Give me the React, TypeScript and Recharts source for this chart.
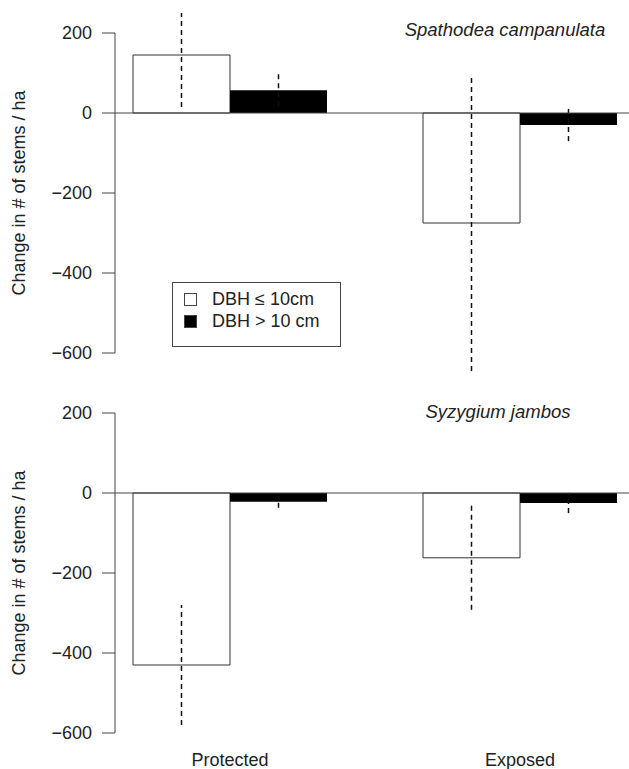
import {
  BarChart,
  Bar,
  XAxis,
  YAxis,
  ErrorBar,
  ReferenceLine,
  Legend,
} from "recharts";

const CATEGORIES = ["Protected", "Exposed"];
const Y_TICKS = [200, 0, -200, -400, -600];
const SERIES_NAMES = ["DBH \u2264 10cm", "DBH > 10 cm"];

// Spathodea campanulata
const SPATHODEA_SMALL = [145, -275];
const SPATHODEA_SMALL_ERR = [130, 370];
const SPATHODEA_LARGE = [57, -30];
const SPATHODEA_LARGE_ERR = [40, 40];

// Syzygium jambos
const SYZYGIUM_SMALL = [-430, -162];
const SYZYGIUM_SMALL_ERR = [150, 130];
const SYZYGIUM_LARGE = [-22, -25];
const SYZYGIUM_LARGE_ERR = [15, 25];

const Y_MIN = -650;
const Y_MAX = 250;
const PLOT_H = 360;
const FONT = "'Liberation Sans', Arial, Helvetica, sans-serif";
const AXIS = "#444";
const TEXT = "#222";

const fmt = (v: number) => (v < 0 ? "\u2212" + Math.abs(v) : String(v));

function YTick(props: any) {
  const { x, y, payload } = props;
  const step = ((Y_TICKS[0] - Y_TICKS[1]) * PLOT_H) / (Y_MAX - Y_MIN);
  const last = payload.value <= Math.min(...Y_TICKS);
  return (
    <g>
      <line x1={x - 13} x2={x} y1={y} y2={y} stroke={AXIS} />
      {!last && <line x1={x} x2={x} y1={y} y2={y + step} stroke={AXIS} />}
      <text
        x={x - 23}
        y={y}
        dy="0.35em"
        textAnchor="end"
        fontSize={18}
        fontFamily={FONT}
        fill={TEXT}
      >
        {fmt(payload.value)}
      </text>
    </g>
  );
}

function YLabel(props: any) {
  const { viewBox } = props;
  const cx = viewBox.x + 10;
  const cy = viewBox.y + viewBox.height / 2;
  return (
    <text
      x={cx}
      y={cy}
      transform={`rotate(-90, ${cx}, ${cy})`}
      textAnchor="middle"
      fontSize={18}
      fontFamily={FONT}
      fill={TEXT}
    >
      Change in # of stems / ha
    </text>
  );
}

function LegendBox(props: any) {
  const items = [...(props.payload || [])].sort(
    (a: any, b: any) => SERIES_NAMES.indexOf(a.value) - SERIES_NAMES.indexOf(b.value)
  );
  return (
    <div
      style={{
        border: `1px solid ${AXIS}`,
        width: 169,
        height: 65,
        paddingTop: 5,
        boxSizing: "border-box",
        background: "#fff",
        fontFamily: FONT,
        fontSize: 18,
        color: TEXT,
      }}
    >
      {items.map((entry: any) => (
        <div
          key={entry.value}
          style={{ display: "flex", alignItems: "center", height: 22 }}
        >
          <span
            style={{
              display: "inline-block",
              marginLeft: 11,
              width: 13,
              height: 13,
              boxSizing: "border-box",
              border: `1px solid ${AXIS}`,
              background: entry.color,
            }}
          />
          <span style={{ marginLeft: 15 }}>{entry.value}</span>
        </div>
      ))}
    </div>
  );
}

type PanelProps = {
  title: string;
  titleLeft: number;
  titleTop: number;
  small: number[];
  smallErr: number[];
  large: number[];
  largeErr: number[];
  top: number;
  height: number;
  showX: boolean;
  showLegend: boolean;
};

function Panel(p: PanelProps) {
  const data = CATEGORIES.map((name, i) => ({
    name,
    small: p.small[i],
    smallErr: p.smallErr[i],
    large: p.large[i],
    largeErr: p.largeErr[i],
  }));
  const xHeight = p.height - PLOT_H;
  return (
    <div
      style={{
        position: "absolute",
        left: 0,
        top: p.top,
        width: 629,
        height: p.height,
        overflow: "hidden",
      }}
    >
      <BarChart
        width={665}
        height={p.height}
        data={data}
        margin={{ top: 0, right: 0, bottom: p.showX ? 0 : xHeight, left: 15 }}
        barCategoryGap={48}
        barGap={0}
      >
        <XAxis
          dataKey="name"
          hide={!p.showX}
          height={p.showX ? xHeight : 0}
          padding={{ left: -30, right: 0 }}
          axisLine={false}
          tickLine={false}
          tickSize={0}
          tickMargin={0}
          tick={{ fontSize: 18, fontFamily: FONT, fill: TEXT }}
        />
        <YAxis
          width={100}
          domain={[Y_MIN, Y_MAX]}
          allowDataOverflow
          ticks={Y_TICKS}
          axisLine={false}
          tickLine={false}
          tickSize={0}
          tickMargin={0}
          tick={<YTick />}
          label={{ content: <YLabel /> }}
        />
        <Bar
          dataKey="small"
          name={SERIES_NAMES[0]}
          fill="#ffffff"
          stroke="#333"
          strokeWidth={1}
          legendType="square"
          isAnimationActive={false}
        >
          <ErrorBar
            dataKey="smallErr"
            direction="y"
            width={0}
            stroke="#111"
            strokeDasharray="5 4"
          />
        </Bar>
        <Bar
          dataKey="large"
          name={SERIES_NAMES[1]}
          fill="#000000"
          legendType="square"
          isAnimationActive={false}
        >
          <ErrorBar
            dataKey="largeErr"
            direction="y"
            width={0}
            stroke="#111"
            strokeDasharray="5 4"
          />
        </Bar>
        <ReferenceLine y={0} stroke={AXIS} />
        {p.showLegend && (
          <Legend
            layout="vertical"
            align="center"
            verticalAlign="middle"
            wrapperStyle={{ position: "absolute", left: 172, top: 269, width: 169 }}
            content={<LegendBox />}
          />
        )}
      </BarChart>
      <div
        style={{
          position: "absolute",
          left: p.titleLeft,
          top: p.titleTop,
          width: 300,
          textAlign: "center",
          lineHeight: "22px",
          fontSize: 18.5,
          fontStyle: "italic",
          fontFamily: FONT,
          color: TEXT,
        }}
      >
        {p.title}
      </div>
    </div>
  );
}

export default function App() {
  return (
    <div
      style={{
        position: "absolute",
        left: 0,
        top: 0,
        width: 629,
        height: 769,
        overflow: "hidden",
        background: "#fff",
      }}
    >
      <Panel
        title="Spathodea campanulata"
        titleLeft={355}
        titleTop={6}
        small={SPATHODEA_SMALL}
        smallErr={SPATHODEA_SMALL_ERR}
        large={SPATHODEA_LARGE}
        largeErr={SPATHODEA_LARGE_ERR}
        top={13}
        height={367}
        showX={false}
        showLegend={true}
      />
      <Panel
        title="Syzygium jambos"
        titleLeft={348}
        titleTop={8}
        small={SYZYGIUM_SMALL}
        smallErr={SYZYGIUM_SMALL_ERR}
        large={SYZYGIUM_LARGE}
        largeErr={SYZYGIUM_LARGE_ERR}
        top={393}
        height={376}
        showX={true}
        showLegend={false}
      />
    </div>
  );
}
